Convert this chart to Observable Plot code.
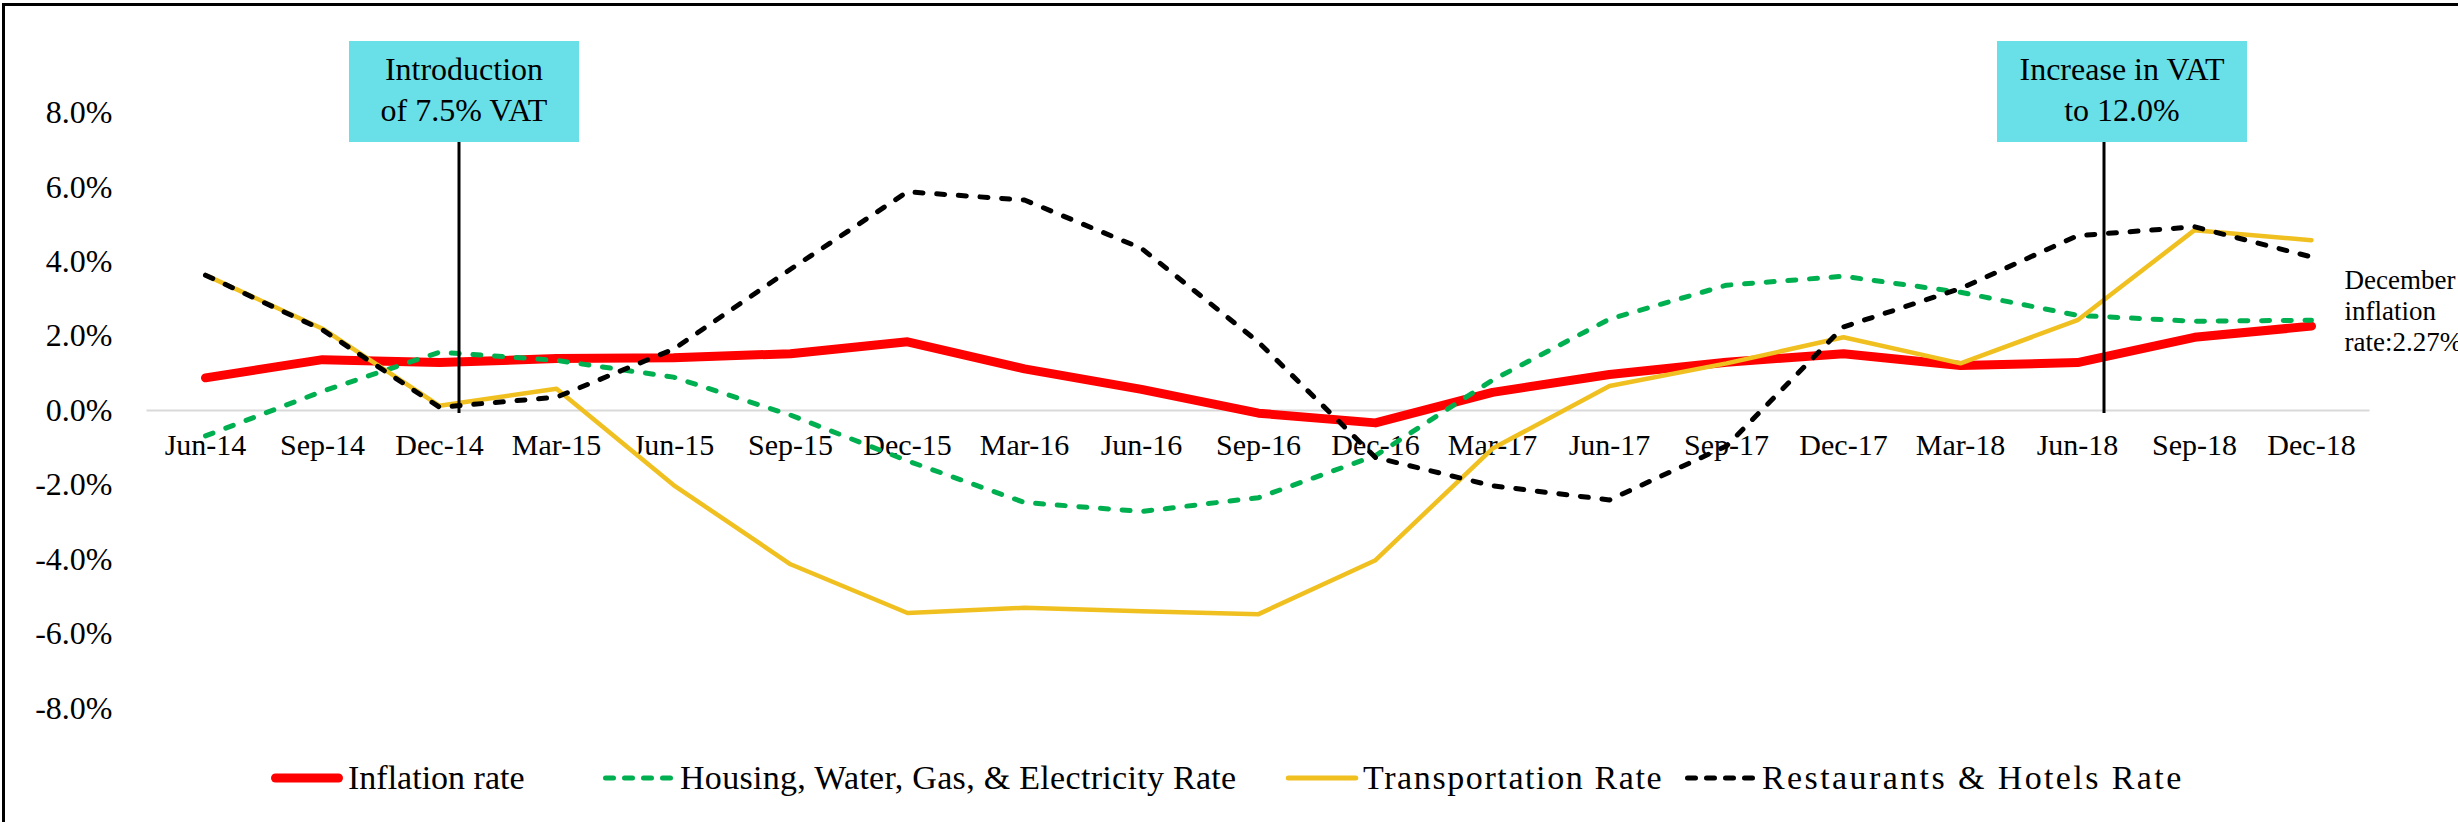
<!DOCTYPE html>
<html><head><meta charset="utf-8">
<script src="https://cdn.jsdelivr.net/npm/d3@7"></script>
<script src="https://cdn.jsdelivr.net/npm/@observablehq/plot@0.6"></script>
<style>
html,body{margin:0;padding:0;background:#fff;}
#frame{position:absolute;left:2px;top:3px;width:2456px;height:819px;border-top:3px solid #000;border-left:3px solid #000;box-sizing:border-box;}
#chart{position:absolute;left:5px;top:6px;}
#legend{position:absolute;left:5px;top:751px;width:2453px;height:54px;display:flex;justify-content:flex-start;align-items:center;padding-left:265px;box-sizing:border-box;font-family:"Liberation Serif",serif;font-size:34px;color:#000;}
.item{display:flex;align-items:center;gap:4px;white-space:nowrap;flex:none;}
</style></head>
<body><div id="frame"></div><div id="chart"></div><div id="legend"></div>
<script>
const dates = ["Jun-14","Sep-14","Dec-14","Mar-15","Jun-15","Sep-15","Dec-15","Mar-16","Jun-16","Sep-16","Dec-16","Mar-17","Jun-17","Sep-17","Dec-17","Mar-18","Jun-18","Sep-18","Dec-18"];
const inflation   = [0.88, 1.37, 1.29, 1.40, 1.42, 1.53, 1.85, 1.12, 0.57, -0.07, -0.33, 0.49, 0.97, 1.30, 1.53, 1.21, 1.29, 1.97, 2.27];
const housing     = [-0.68, 0.52, 1.57, 1.35, 0.90, -0.12, -1.35, -2.47, -2.71, -2.34, -1.21, 0.82, 2.46, 3.37, 3.61, 3.18, 2.56, 2.40, 2.43];
const transport   = [3.64, 2.20, 0.13, 0.59, -2.00, -4.13, -5.44, -5.30, -5.39, -5.47, -4.02, -1.02, 0.66, 1.27, 1.97, 1.27, 2.43, 4.85, 4.58];
const restaurants = [3.64, 2.17, 0.09, 0.36, 1.65, 3.80, 5.88, 5.66, 4.36, 1.84, -1.26, -2.02, -2.40, -0.95, 2.25, 3.28, 4.70, 4.94, 4.13];
const seriesNames = ["Inflation rate", "Housing, Water, Gas, & Electricity Rate", "Transportation Rate", "Restaurants & Hotels Rate"];
const yTicks = [-8, -6, -4, -2, 0, 2, 4, 6, 8];
const vatEvents = [
  {date: "Dec-14", lines: ["Introduction", "of 7.5% VAT"]},
  {date: "Jun-18", lines: ["Increase in VAT", "to 12.0%"]}
];
const decNote = [{date: "Dec-18", value: 2.27, text: "December\ninflation\nrate:2.27%"}];

// styles (not data)
const seriesStyles = [
  {stroke: "#FF0000", strokeWidth: 9},
  {stroke: "#00B050", strokeWidth: 5, strokeDasharray: "8,13.7"},
  {stroke: "#F0C020", strokeWidth: 4.5},
  {stroke: "#000000", strokeWidth: 5, strokeDasharray: "8,13.7"}
];
const legendItemWidths = [332, 683, 399, 511];
const legendLetterSpacing = [0, 0.3, 1.6, 2.4];
const boxStyle = {top: 35, height: 101, widths: [230, 250], shifts: [5, 18], lineDx: [20, 27], fill: "#69E0E8", baselines: [39, 80], fontSize: 32};

const seriesValues = [inflation, housing, transport, restaurants];
const rowsOf = vals => dates.map((d, i) => ({date: d, value: vals[i]}));

const chart = Plot.plot({
  width: 2453, height: 745,
  marginLeft: 141.5, marginRight: 88.5, marginTop: 32, marginBottom: 6,
  style: {fontFamily: '"Liberation Serif", serif', fontSize: "32px", color: "#000", background: "transparent", overflow: "visible"},
  x: {type: "point", domain: dates, padding: 0.5, axis: null},
  y: {domain: [-9, 10], ticks: yTicks, tickFormat: d => d.toFixed(1) + "%", tickSize: 0, tickPadding: 34.5, label: null},
  marks: [
    Plot.ruleY([0], {stroke: "#D9D9D9", strokeWidth: 2}),
    Plot.text(dates, {x: d => d, y: () => 0, text: d => d, lineAnchor: "top", dy: 23, fontSize: 30, fill: "#000"}),
    ...seriesValues.map((vals, i) => Plot.line(rowsOf(vals), Object.assign({x: "date", y: "value", strokeLinecap: "round", strokeLinejoin: "round"}, seriesStyles[i]))),
    Plot.text(decNote, {x: "date", y: "value", text: "text", textAnchor: "start", lineAnchor: "middle", lineHeight: 1.15, dx: 33, dy: -16, fontSize: 27, fill: "#000"})
  ]
});
document.getElementById("chart").appendChild(chart);

// VAT annotations, positioned via the chart's own scales
const xs = chart.scale("x"), ys = chart.scale("y");
const g = d3.select(chart).append("g").attr("class", "vat-annotations");
vatEvents.forEach((ev, i) => {
  const lx = xs.apply(ev.date) + boxStyle.lineDx[i];
  const cx = lx + boxStyle.shifts[i];
  const w = boxStyle.widths[i];
  g.append("line")
    .attr("x1", lx).attr("x2", lx)
    .attr("y1", boxStyle.top + boxStyle.height).attr("y2", ys.apply(0) + 3)
    .attr("stroke", "#000").attr("stroke-width", 3);
  g.append("rect")
    .attr("x", cx - w / 2).attr("y", boxStyle.top)
    .attr("width", w).attr("height", boxStyle.height)
    .attr("fill", boxStyle.fill);
  ev.lines.forEach((t, j) => {
    g.append("text")
      .attr("x", cx).attr("y", boxStyle.top + boxStyle.baselines[j])
      .attr("text-anchor", "middle").attr("font-size", boxStyle.fontSize)
      .attr("fill", "#000").text(t);
  });
});

// Legend
const legend = d3.select("#legend");
seriesNames.forEach((name, i) => {
  const s = seriesStyles[i];
  const item = legend.append("div").attr("class", "item").style("width", legendItemWidths[i] + "px");
  const sw = item.append("svg").attr("width", 74).attr("height", 14);
  sw.append("line").attr("x1", s.strokeWidth / 2 + 1).attr("x2", 73 - s.strokeWidth / 2).attr("y1", 7).attr("y2", 7)
    .attr("stroke", s.stroke).attr("stroke-width", i === 2 ? 5 : s.strokeWidth)
    .attr("stroke-linecap", "round")
    .attr("stroke-dasharray", s.strokeDasharray ? "8,11" : null);
  item.append("span").style("letter-spacing", legendLetterSpacing[i] + "px").text(name);
});
</script></body></html>
